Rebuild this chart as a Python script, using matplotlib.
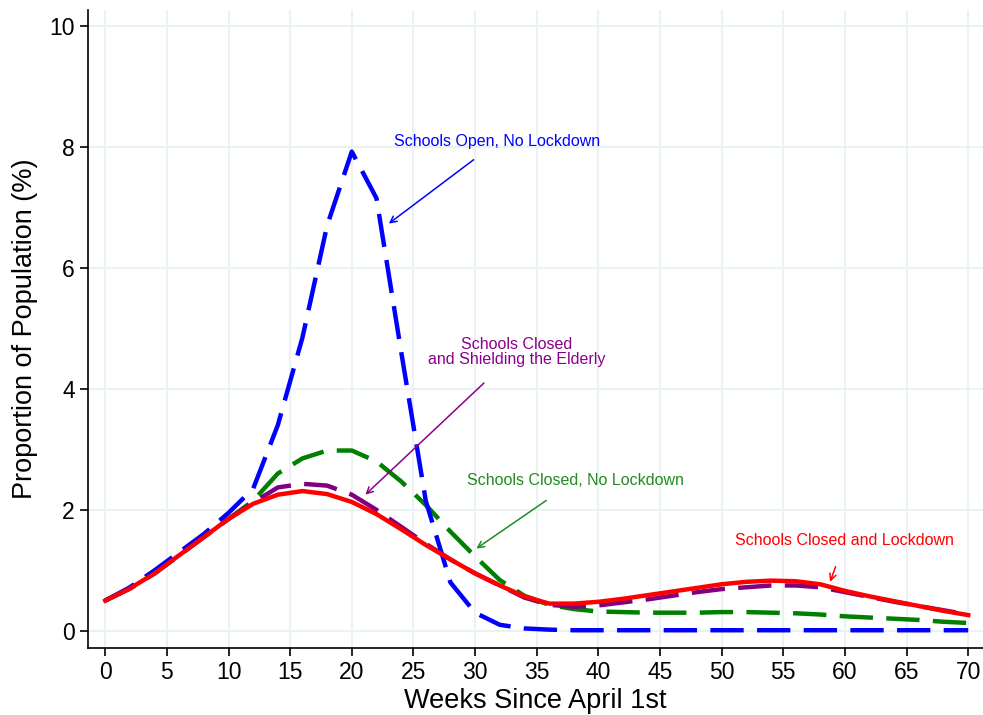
import numpy as np
import matplotlib.pyplot as plt

plt.rcParams['font.family'] = ['Liberation Sans', 'DejaVu Sans']

# weeks since April 1st (every two weeks)
weeks = np.arange(0, 72, 2)

# proportion of population (%) per scenario
open_no_lockdown = [0.50, 0.72, 1.00, 1.30, 1.60, 1.95, 2.35, 3.40, 4.85, 6.70, 7.92,
                    7.15, 4.62, 2.15, 0.80, 0.30, 0.10, 0.04, 0.02, 0.01, 0.01, 0.01,
                    0.01, 0.01, 0.01, 0.01, 0.01, 0.01, 0.01, 0.01, 0.01, 0.01, 0.01,
                    0.01, 0.01, 0.01]
closed_no_lockdown = [0.50, 0.70, 0.95, 1.25, 1.55, 1.85, 2.15, 2.60, 2.85, 2.98, 2.98,
                      2.80, 2.47, 2.08, 1.64, 1.23, 0.84, 0.58, 0.43, 0.36, 0.32, 0.31,
                      0.30, 0.30, 0.30, 0.31, 0.31, 0.30, 0.29, 0.27, 0.24, 0.22, 0.20,
                      0.18, 0.15, 0.13]
closed_shielding = [0.50, 0.70, 0.95, 1.25, 1.55, 1.85, 2.12, 2.37, 2.43, 2.40, 2.25,
                    2.00, 1.72, 1.44, 1.18, 0.95, 0.75, 0.55, 0.43, 0.40, 0.42, 0.47,
                    0.52, 0.58, 0.64, 0.69, 0.72, 0.75, 0.75, 0.72, 0.64, 0.56, 0.48,
                    0.41, 0.34, 0.27]
closed_lockdown = [0.50, 0.70, 0.95, 1.25, 1.55, 1.85, 2.10, 2.25, 2.31, 2.26, 2.13,
                   1.93, 1.68, 1.42, 1.18, 0.95, 0.75, 0.57, 0.45, 0.45, 0.48, 0.53,
                   0.59, 0.65, 0.71, 0.77, 0.81, 0.83, 0.82, 0.77, 0.66, 0.57, 0.49,
                   0.41, 0.33, 0.26]

fig = plt.figure(figsize=(9.83, 7.15), dpi=100)
ax = fig.add_axes([0.0895, 0.094, 0.9105, 0.892])

ax.plot(weeks, closed_no_lockdown, color='#007f00', lw=3.2, dashes=(7.5, 3))
ax.plot(weeks, closed_shielding, color='#800080', lw=3.2, dashes=(7.5, 3))
ax.plot(weeks, open_no_lockdown, color='#0000ff', lw=3.2, dashes=(7.5, 3))
ax.plot(weeks, closed_lockdown, color='#ff0000', lw=3.2)

ax.set_xlim(-1.4, 71.2)
ax.set_ylim(-0.28, 10.26)
ax.set_xticks(np.arange(0, 75, 5))
ax.set_yticks(np.arange(0, 12, 2))
ax.grid(True, color='#eaf2f3', lw=1.5)
ax.set_axisbelow(True)
for s in ['top', 'right']:
    ax.spines[s].set_visible(False)
for s in ['left', 'bottom']:
    ax.spines[s].set_linewidth(1.2)
ax.tick_params(direction='out', length=6, width=1.2, labelsize=16.5)

ax.set_xlabel('Weeks Since April 1st', fontsize=19.5, labelpad=3)
ax.set_ylabel('Proportion of Population (%)', fontsize=19.5, labelpad=8)

# annotations
ax.annotate('Schools Open, No Lockdown', xy=(23.0, 6.73), xytext=(31.8, 8.08),
            color='#0000ff', fontsize=11.5, ha='center', va='center',
            arrowprops=dict(arrowstyle='->', color='#0000ff', lw=1.1,
                            shrinkA=9, shrinkB=0))
ax.annotate('Schools Closed\nand Shielding the Elderly', xy=(21.1, 2.25),
            xytext=(33.4, 4.61), color='#8b008b', fontsize=11.5, ha='center',
            va='center', linespacing=1.0,
            arrowprops=dict(arrowstyle='->', color='#8b008b', lw=1.1,
                            shrinkA=14, shrinkB=0))
ax.annotate('Schools Closed, No Lockdown', xy=(30.1, 1.36), xytext=(38.1, 2.48),
            color='#228b22', fontsize=11.5, ha='center', va='center',
            arrowprops=dict(arrowstyle='->', color='#228b22', lw=1.1,
                            shrinkA=12, shrinkB=0))
ax.annotate('Schools Closed and Lockdown', xy=(58.8, 0.81), xytext=(60.0, 1.49),
            color='#ff0000', fontsize=11.5, ha='center', va='center',
            arrowprops=dict(arrowstyle='->', color='#ff0000', lw=1.1,
                            shrinkA=12, shrinkB=0))

fig.savefig('out.png', dpi=100)
